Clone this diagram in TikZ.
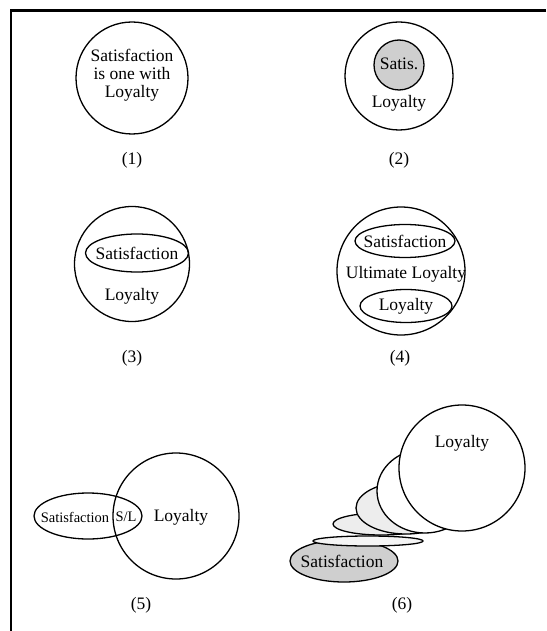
\documentclass[tikz,border=0pt]{standalone}
\usepackage{fontspec}
\setmainfont{Liberation Serif}
\usetikzlibrary{shapes.geometric}
\begin{document}
\begin{tikzpicture}[x=1pt,y=-1pt,
  ring/.style={draw,line width=1.3pt,circle,inner sep=0pt},
  oval/.style={draw,line width=1.3pt,ellipse,inner sep=0pt},
  lbl/.style={font=\fontsize{17.5}{18}\selectfont,align=center,inner sep=0pt},
  small/.style={font=\fontsize{14.5}{16}\selectfont,inner sep=0pt},
  dots/.style={fill=gray!38},
  pale/.style={fill=gray!14}]
\useasboundingbox (0,0) rectangle (546,631);
% frame
\draw[line width=2.4pt] (546,10.5) -- (11,10.5) -- (11,631);

% (1)
\node[ring,minimum size=112pt] (c1) at (132,78) {};
\node[lbl] (t1) at (132,75) {Satisfaction\\is one with\\Loyalty};
\node[lbl] (n1) at (132,160) {(1)};

% (2)
\node[ring,minimum size=108pt] (c2) at (399,76) {};
\node[ring,dots,minimum size=50pt] (s2) at (399,65) {};
\node[lbl] (ts2) at (399,64) {Satis.};
\node[lbl] (tl2) at (399,103) {Loyalty};
\node[lbl] (n2) at (399,160) {(2)};

% (3)
\node[ring,minimum size=115pt] (c3) at (132,264) {};
\node[oval,minimum width=103pt,minimum height=38pt] (s3) at (137,253) {};
\node[lbl] (ts3) at (137,253) {Satisfaction};
\node[lbl] (tl3) at (132,296) {Loyalty};
\node[lbl] (n3) at (132,358) {(3)};

% (4)
\node[ring,minimum size=128pt] (c4) at (401,271) {};
\node[oval,minimum width=100pt,minimum height=33pt] (s4) at (405,241) {};
\node[lbl] (ts4) at (405,241) {Satisfaction};
\node[lbl] (tu4) at (406,274) {Ultimate Loyalty};
\node[oval,minimum width=92pt,minimum height=33pt] (l4) at (406,306) {};
\node[lbl] (tl4) at (406,306) {Loyalty};
\node[lbl] (n4) at (400,358) {(4)};

% (5)
\node[oval,minimum width=108pt,minimum height=46pt] (s5) at (88,516) {};
\node[ring,minimum size=126pt] (c5) at (176,516) {};
\node[small] (ts5) at (75,517) {Satisfaction};
\node[small] (tsl5) at (126,517) {S/L};
\node[lbl] (tl5) at (181,517) {Loyalty};
\node[lbl] (n5) at (141,605) {(5)};

% (6) satisfaction turning into loyalty, back to front
\node[oval,dots,minimum width=108pt,minimum height=42pt] (e6a) at (344,561) {};
\node[oval,fill=gray!8,minimum width=110pt,minimum height=10pt] (e6b) at (368,541) {};
\node[oval,pale,minimum width=96pt,minimum height=22pt] (e6c) at (381,524) {};
\node[oval,pale,minimum width=100pt,minimum height=52pt] (e6d) at (406,508) {};
\node[oval,fill=white,minimum width=96pt,minimum height=84pt] (e6e) at (425,491) {};
\node[ring,fill=white,minimum size=126pt] (c6) at (462,468) {};
\node[lbl] (tl6) at (462,443) {Loyalty};
\node[lbl] (ts6) at (342,561) {Satisfaction};
\node[lbl] (n6) at (402,605) {(6)};
\end{tikzpicture}
\end{document}
